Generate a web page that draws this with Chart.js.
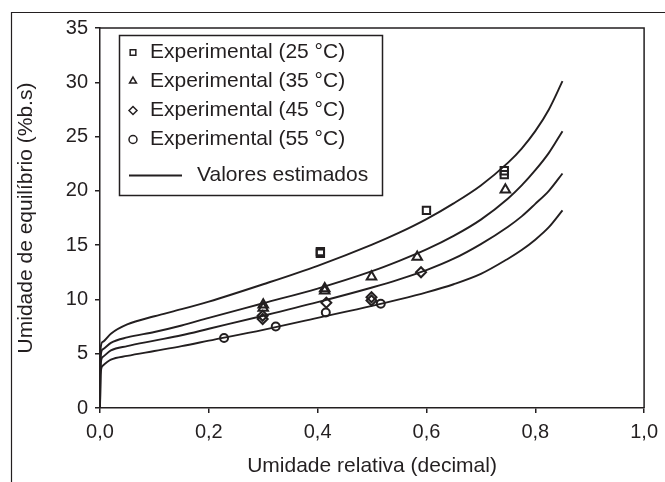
<!DOCTYPE html>
<html>
<head>
<meta charset="utf-8">
<script src="https://cdn.jsdelivr.net/npm/chart.js@4/dist/chart.umd.min.js"></script>
<style>
  html, body { margin: 0; padding: 0; background: #fff; }
  #wrap { width: 665px; height: 482px; }
</style>
</head>
<body>
<div id="wrap"><canvas id="isoChart" width="665" height="482"></canvas></div>
<script>
// Isotermas de sorção
var curveX = [0, 0.001, 0.005, 0.02, 0.05, 0.1, 0.15, 0.2, 0.3, 0.4, 0.5, 0.55, 0.6, 0.65, 0.7, 0.75, 0.775, 0.8, 0.825, 0.85];
var est25 = [0, 5.4, 6.1, 6.85, 7.7, 8.45, 9.1, 9.8, 11.4, 13.1, 15.05, 16.15, 17.4, 18.85, 20.5, 22.6, 23.9, 25.5, 27.5, 30.1];
var est35 = [0, 4.6, 5.4, 6.0, 6.5, 7.0, 7.6, 8.3, 9.65, 11.0, 12.6, 13.55, 14.6, 15.85, 17.35, 19.3, 20.5, 21.9, 23.5, 25.5];
var est45 = [0, 3.9, 4.7, 5.3, 5.7, 6.2, 6.7, 7.3, 8.5, 9.75, 11.1, 11.85, 12.7, 13.75, 15.1, 16.7, 17.65, 18.8, 20.0, 21.6];
var est55 = [0, 3.1, 3.9, 4.45, 4.8, 5.25, 5.7, 6.2, 7.2, 8.3, 9.4, 10.0, 10.65, 11.4, 12.35, 13.75, 14.55, 15.5, 16.65, 18.2];

var exp25X = [0.405, 0.405, 0.600, 0.743, 0.743];
var exp25Y = [14.25, 14.4, 18.2, 21.5, 21.85];
var exp35X = [0.300, 0.300, 0.413, 0.413, 0.499, 0.583, 0.745];
var exp35Y = [9.2, 9.5, 10.8, 11.0, 12.1, 13.9, 20.1];
var exp45X = [0.299, 0.299, 0.416, 0.499, 0.499, 0.590];
var exp45Y = [8.2, 8.5, 9.7, 9.9, 10.2, 12.5];
var exp55X = [0.228, 0.323, 0.415, 0.516];
var exp55Y = [6.45, 7.5, 8.8, 9.6];

var xTicks = [0, 0.2, 0.4, 0.6, 0.8, 1.0];
var yTicks = [0, 5, 10, 15, 20, 25, 30, 35];

var INK = '#231f20';
var FONT = "'Liberation Sans', Arial, sans-serif";
Chart.defaults.font.family = FONT;
Chart.defaults.color = INK;

function pairs(xs, ys) {
    return xs.map(function (x, i) { return { x: x, y: ys[i] }; });
}

function expSet(label, xs, ys, style, radius) {
    return {
        label: label,
        data: pairs(xs, ys),
        showLine: false,
        pointStyle: style,
        pointRadius: radius,
        pointBorderWidth: 2,
        pointBorderColor: INK,
        pointBackgroundColor: 'rgba(0,0,0,0)'
    };
}

function lineSet(ys) {
    return {
        label: 'Valores estimados',
        data: pairs(curveX, ys),
        showLine: true,
        borderColor: INK,
        borderWidth: 1.9,
        pointRadius: 0,
        cubicInterpolationMode: 'monotone'
    };
}

var datasets = [
    expSet('Experimental (25 °C)', exp25X, exp25Y, 'rect', 5.2),
    expSet('Experimental (35 °C)', exp35X, exp35Y, 'triangle', 5.5),
    expSet('Experimental (45 °C)', exp45X, exp45Y, 'rectRot', 5),
    expSet('Experimental (55 °C)', exp55X, exp55Y, 'circle', 4),
    lineSet(est25),
    lineSet(est35),
    lineSet(est45),
    lineSet(est55)
];

// moldura externa, borda do gráfico e legenda
var framePlugin = {
    id: 'frame',
    afterDraw: function (chart) {
        var ctx = chart.ctx;
        var a = chart.chartArea;
        ctx.save();
        ctx.strokeStyle = INK;
        ctx.lineWidth = 1.2;
        ctx.beginPath();
        ctx.moveTo(11.5, chart.height);
        ctx.lineTo(11.5, 12.5);
        ctx.lineTo(chart.width, 12.5);
        ctx.stroke();

        ctx.lineWidth = 1.5;
        ctx.beginPath();
        ctx.moveTo(a.left, a.top);
        ctx.lineTo(a.right, a.top);
        ctx.lineTo(a.right, a.bottom);
        ctx.stroke();

        // legenda
        ctx.lineWidth = 1.5;
        ctx.strokeRect(119.5, 35.5, 263, 160);
        ctx.font = '21px ' + FONT;
        ctx.textBaseline = 'middle';
        ctx.textAlign = 'left';
        var rows = [52.5, 81, 110.5, 139.5];
        for (var i = 0; i < 4; i++) {
            var ds = chart.data.datasets[i];
            ctx.fillStyle = 'rgba(0,0,0,0)';
            ctx.strokeStyle = INK;
            Chart.helpers.drawPoint(ctx, { pointStyle: ds.pointStyle, radius: 4, borderWidth: 1.6, rotation: 0 }, 133, rows[i]);
            ctx.fillStyle = INK;
            ctx.fillText(ds.label, 150, rows[i]);
        }
        var last = chart.data.datasets[4];
        ctx.lineWidth = 1.8;
        ctx.beginPath();
        ctx.moveTo(129, 175.5);
        ctx.lineTo(182, 175.5);
        ctx.stroke();
        ctx.fillText(last.label, 197, 175.5);
        ctx.restore();
    }
};

new Chart(document.getElementById('isoChart'), {
    type: 'scatter',
    data: { datasets: datasets },
    options: {
        responsive: false,
        animation: false,
        devicePixelRatio: 1,
        layout: { padding: { top: 28, right: 20, left: 0, bottom: 0 } },
        plugins: {
            legend: { display: false },
            tooltip: { enabled: false }
        },
        scales: {
            x: {
                type: 'linear',
                min: 0,
                max: 1,
                afterBuildTicks: function (s) { s.ticks = xTicks.map(function (v) { return { value: v }; }); },
                afterFit: function (s) { s.height = 74; },
                ticks: {
                    font: { size: 20 },
                    color: INK,
                    padding: 7,
                    maxRotation: 0,
                    callback: function (v) { return v.toFixed(1).replace('.', ','); }
                },
                grid: { drawOnChartArea: false, drawTicks: true, tickLength: 5, color: INK, lineWidth: 1.5 },
                border: { display: true, color: INK, width: 1.5 },
                title: {
                    display: true,
                    text: 'Umidade relativa (decimal)',
                    font: { size: 21 },
                    color: INK,
                    padding: { top: 0, bottom: 3 }
                }
            },
            y: {
                type: 'linear',
                min: 0,
                max: 35,
                afterBuildTicks: function (s) { s.ticks = yTicks.map(function (v) { return { value: v }; }); },
                afterFit: function (s) { s.width = 100; },
                ticks: { font: { size: 20 }, color: INK, padding: 7 },
                grid: { drawOnChartArea: false, drawTicks: true, tickLength: 5, color: INK, lineWidth: 1.5 },
                border: { display: true, color: INK, width: 1.5 },
                title: {
                    display: true,
                    text: 'Umidade de equilíbrio (%b.s)',
                    font: { size: 21 },
                    color: INK,
                    padding: { top: 14, bottom: 0 }
                }
            }
        }
    },
    plugins: [framePlugin]
});
</script>
</body>
</html>
